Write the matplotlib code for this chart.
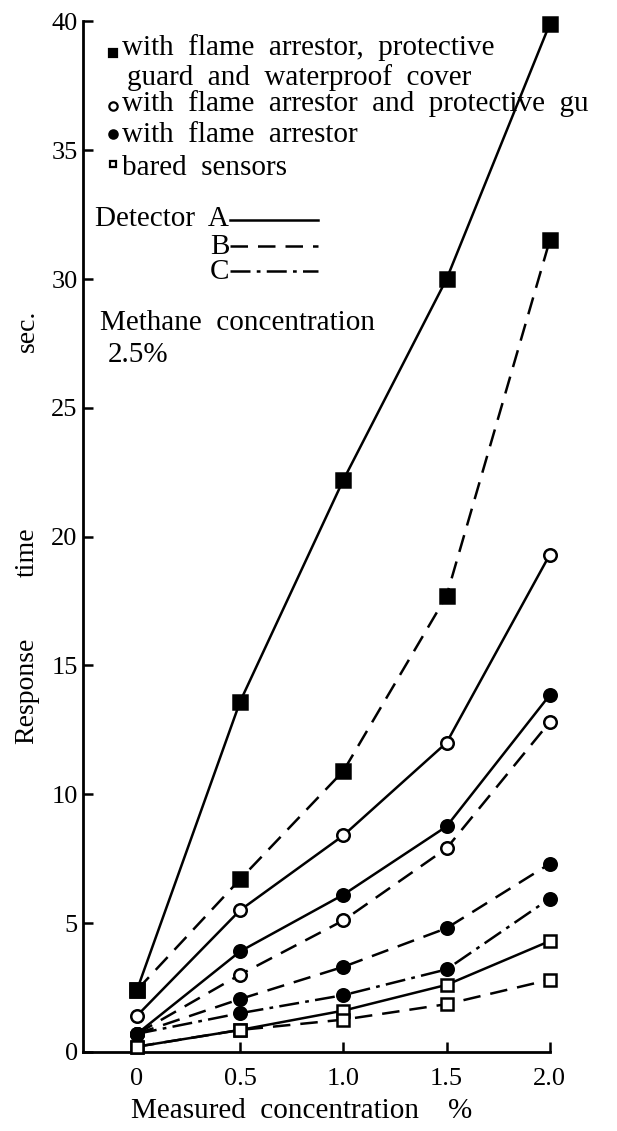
import matplotlib.pyplot as plt

plt.rcParams['font.family'] = ['Liberation Serif', 'DejaVu Sans']

# measured concentration (%)
conc = [0.0, 0.5, 1.0, 1.5, 2.0]

# response time (sec.) -- filled square: flame arrestor + guard + waterproof cover
fsq_A = [2.4, 13.6, 22.2, 30.0, 39.9]
fsq_B = [2.4, 6.7, 10.9, 17.7, 31.5]
# open circle: flame arrestor + protective guard
ocir_A = [1.4, 5.5, 8.4, 12.0, 19.3]
ocir_B = [0.7, 3.0, 5.1, 7.9, 12.8]
# filled circle: flame arrestor
fcir_A = [0.7, 3.9, 6.1, 8.75, 13.85]
fcir_B = [0.7, 2.05, 3.3, 4.8, 7.3]
fcir_C = [0.7, 1.5, 2.2, 3.2, 5.95]
# open square: bared sensors
osq_A = [0.2, 0.85, 1.6, 2.6, 4.3]
osq_B = [0.2, 0.85, 1.25, 1.85, 2.8]

xticks = [0, 0.5, 1.0, 1.5, 2.0]
xticklabels = ['0', '0.5', '1.0', '1.5', '2.0']
yticks = [0, 5, 10, 15, 20, 25, 30, 35, 40]

solid = '-'
dashed = (0, (7, 4))
dashdot = (0, (8, 2.5, 1.5, 2.5))

fig = plt.figure(figsize=(6.17, 11.31), dpi=100)
ax = fig.add_axes([0.135, 0.07, 0.756, 0.911])

lw = 1.8
def curve(y, ls, marker, filled, ms):
    ax.plot(conc, y, color='black', lw=lw, ls=ls, marker=marker, ms=ms,
            mfc='black' if filled else 'white', mec='black', mew=1.8,
            clip_on=False, zorder=3)

curve(fsq_A, solid, 's', True, 10)
curve(fsq_B, dashed, 's', True, 10)
curve(ocir_A, solid, 'o', False, 9)
curve(ocir_B, dashed, 'o', False, 9)
curve(fcir_A, solid, 'o', True, 9)
curve(fcir_B, dashed, 'o', True, 9)
curve(fcir_C, dashdot, 'o', True, 9)
curve(osq_A, solid, 's', False, 9)
curve(osq_B, dashed, 's', False, 9)

ax.set_xlim(-0.26, 2.0)
ax.set_ylim(0, 40)
ax.set_xticks(xticks)
ax.set_xticklabels(xticklabels)
ax.set_yticks(yticks)
ax.tick_params(direction='in', length=7, width=1.8, labelsize=19)
ax.tick_params(axis='x', pad=12)
ax.tick_params(axis='y', pad=4)
for s in ['top', 'right']:
    ax.spines[s].set_visible(False)
for s in ['left', 'bottom']:
    ax.spines[s].set_linewidth(2)

# axis labels
fig.text(302 / 617, 1 - 1111 / 1131, 'Measured  concentration    %', ha='center', va='center', fontsize=21)
for txt, yp in [('sec.', 331), ('time', 552), ('Response', 691)]:
    fig.text(27 / 617, 1 - yp / 1131, txt, rotation=90, ha='center', va='center', fontsize=20)

# marker legend (upper left)
fs = 21
def ftext(xp, yp, s):
    fig.text(xp / 617, 1 - yp / 1131, s, ha='left', va='center', fontsize=fs)

def fmark(xp, yp, marker, filled, ms):
    fig.add_artist(plt.Line2D([xp / 617], [1 - yp / 1131], marker=marker, ms=ms, mew=1.6,
                              mfc='black' if filled else 'white', mec='black',
                              transform=fig.transFigure))

fmark(113, 53, 's', True, 6)
ftext(122, 48, 'with  flame  arrestor,  protective')
ftext(127, 78, 'guard  and  waterproof  cover')
fmark(113, 106, 'o', False, 6)
ftext(122, 104, 'with  flame  arrestor  and  protective  gu')
fmark(113, 134, 'o', True, 6)
ftext(122, 135, 'with  flame  arrestor')
fmark(113, 164, 's', False, 5)
ftext(122, 168, 'bared  sensors')

ftext(95, 219, 'Detector  A')
ftext(210, 247, 'B')
ftext(210, 272, 'C')
for yp, ls in [(220, solid), (246, dashed), (271, dashdot)]:
    fig.add_artist(plt.Line2D([230 / 617, 318 / 617], [1 - yp / 1131] * 2, color='black',
                              lw=1.8, ls=ls, transform=fig.transFigure))

ftext(100, 323, 'Methane  concentration')
ftext(108, 355, '2.5%')

fig.savefig('out.png', dpi=100)
